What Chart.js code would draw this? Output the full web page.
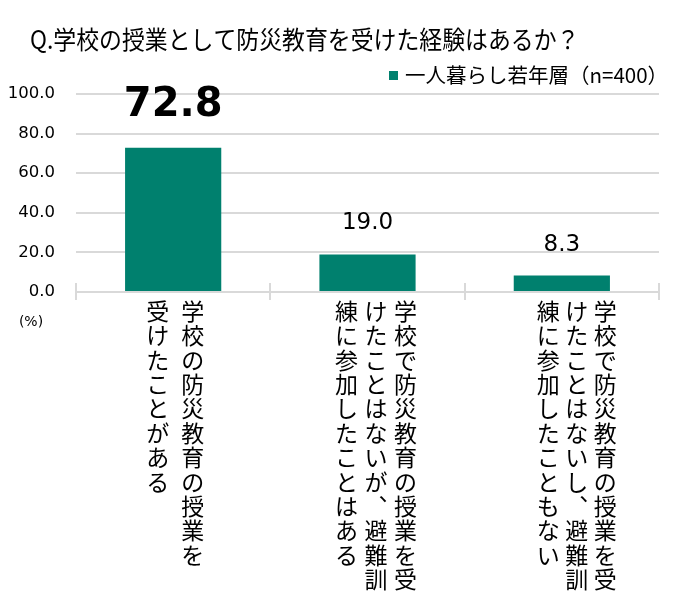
<!DOCTYPE html>
<html>
<head>
<meta charset="utf-8">
<script src="https://cdn.jsdelivr.net/npm/chart.js@4.4.0/dist/chart.umd.min.js"></script>
<style>
  html, body { margin: 0; padding: 0; background: #fff; }
</style>
</head>
<body>
<canvas id="chart" width="696" height="600"></canvas>
<script>
// Data
const titleText = 'Q.学校の授業として防災教育を受けた経験はあるか？';
const seriesLabel = '一人暮らし若年層（n=400）';
const categories = [
    ['学校の防災教育の授業を', '受けたことがある'],
    ['学校で防災教育の授業を受', 'けたことはないが、避難訓', '練に参加したことはある'],
    ['学校で防災教育の授業を受', 'けたことはないし、避難訓', '練に参加したこともない']
];
const values = [72.8, 19.0, 8.3];
const yTicks = [0, 20, 40, 60, 80, 100];
const unitLabel = '(%)';

const FONT_CJK = '"Noto Sans CJK JP", sans-serif';
const FONT_NUM = '"DejaVu Sans", Verdana, sans-serif';
const BAR_COLOR = '#00806e';
const GRID_COLOR = '#d9d9d9';

// Vertical label layout (first column is the rightmost one)
const colRight = [19.5, 38, 43.5];
const colGap = [35, 29.5, 28.5];
const rowTop = 311;
const rowPitch = 24.4;

// vertical forms for punctuation
function toVertical(ch) {
    if (ch === '、') return '\uFE11';
    if (ch === '。') return '\uFE12';
    return ch;
}

const extrasPlugin = {
    id: 'extras',
    afterDraw(chart) {
        const { ctx, chartArea, scales: { x } } = chart;
        ctx.save();

        // Title
        ctx.fillStyle = '#000';
        ctx.textAlign = 'left';
        ctx.textBaseline = 'middle';
        ctx.font = '25px ' + FONT_CJK;
        ctx.save();
        ctx.translate(30, 39);
        ctx.scale(0.915, 1);
        ctx.fillText(titleText, 0, 0);
        ctx.restore();

        // Legend
        const ds = chart.data.datasets[0];
        ctx.fillStyle = ds.backgroundColor;
        ctx.fillRect(389, 71, 9, 9);
        ctx.fillStyle = '#000';
        ctx.font = '20.5px ' + FONT_CJK;
        ctx.fillText(ds.label, 405, 75);

        // Upper half of the cross tick marks on the category axis
        ctx.strokeStyle = GRID_COLOR;
        ctx.lineWidth = 2;
        const step = (chartArea.right - chartArea.left) / categories.length;
        for (let i = 0; i <= categories.length; i++) {
            const px = Math.round(chartArea.left + i * step);
            ctx.beginPath();
            ctx.moveTo(px, chartArea.bottom - 9);
            ctx.lineTo(px, chartArea.bottom);
            ctx.stroke();
        }

        // Category labels, written vertically, columns right to left
        ctx.fillStyle = '#000';
        ctx.font = '23px ' + FONT_CJK;
        ctx.textAlign = 'center';
        ctx.textBaseline = 'middle';
        categories.forEach((lines, i) => {
            const cx = x.getPixelForValue(i);
            lines.forEach((line, j) => {
                const colX = cx + colRight[i] - j * colGap[i];
                Array.from(line).forEach((ch, k) => {
                    ctx.fillText(toVertical(ch), colX, rowTop + k * rowPitch);
                });
            });
        });

        // Data labels
        const meta = chart.getDatasetMeta(0);
        const maxVal = Math.max(...values);
        ctx.textBaseline = 'alphabetic';
        meta.data.forEach((bar, i) => {
            const v = values[i];
            if (v === maxVal) {
                ctx.font = 'bold 40px ' + FONT_NUM;
                ctx.fillText(v.toFixed(1), bar.x, bar.y - 32);
            } else {
                ctx.font = '23px ' + FONT_NUM;
                ctx.fillText(v.toFixed(1), bar.x, bar.y - 25);
            }
        });

        // unit
        ctx.font = '14px ' + FONT_NUM;
        ctx.textBaseline = 'middle';
        ctx.fillText(unitLabel, 31, 322);

        ctx.restore();
    }
};

const ctx = document.getElementById('chart').getContext('2d');
new Chart(ctx, {
    type: 'bar',
    data: {
        labels: categories,
        datasets: [{
            label: seriesLabel,
            data: values,
            backgroundColor: BAR_COLOR,
            borderWidth: 0,
            barPercentage: 0.495,
            categoryPercentage: 1
        }]
    },
    options: {
        responsive: false,
        animation: false,
        layout: { padding: { top: 94, right: 37, left: 0, bottom: 0 } },
        plugins: {
            legend: { display: false },
            title: { display: false },
            tooltip: { enabled: false }
        },
        scales: {
            x: {
                offset: true,
                grid: {
                    display: true,
                    offset: true,
                    drawOnChartArea: false,
                    drawTicks: true,
                    tickLength: 8,
                    color: GRID_COLOR,
                    lineWidth: 2
                },
                border: { display: true, color: GRID_COLOR, width: 2 },
                ticks: { display: false },
                afterFit(scale) { scale.height = 308; }
            },
            y: {
                min: 0,
                max: 100,
                afterBuildTicks(scale) { scale.ticks = yTicks.map(v => ({ value: v })); },
                grid: { color: GRID_COLOR, lineWidth: 2, drawTicks: false },
                border: { display: false },
                ticks: {
                    padding: 21,
                    color: '#000',
                    font: { family: FONT_NUM, size: 16.5 },
                    callback: v => Number(v).toFixed(1)
                },
                afterFit(scale) { scale.width = 76; }
            }
        }
    },
    plugins: [extrasPlugin]
});
</script>
</body>
</html>
